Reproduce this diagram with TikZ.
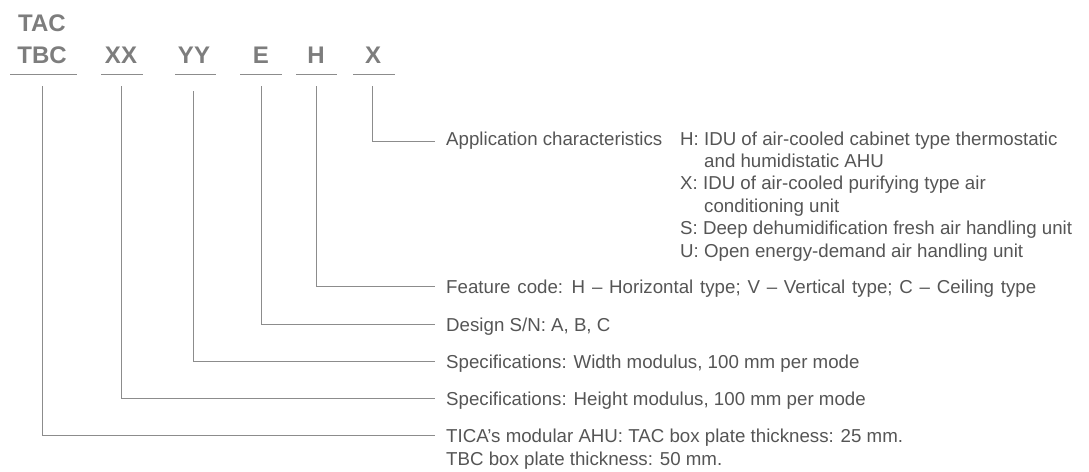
\documentclass[tikz,border=0pt]{standalone}
\usepackage{fontspec}
\setmainfont{Liberation Sans}
\definecolor{txtgray}{HTML}{555555}
\definecolor{ttlgray}{HTML}{7D7D7D}
\definecolor{lngray}{HTML}{8C8C8C}
\tikzset{
  codelbl/.style={inner sep=0pt, anchor=base, text=ttlgray, font=\fontsize{24}{31.7}\selectfont\bfseries},
  desc/.style={inner sep=0pt, anchor=base west, text=txtgray, font=\fontsize{18.7}{22.4}\selectfont},
  uline/.style={draw=lngray, line width=0.9pt},
  conn/.style={draw=lngray, line width=0.9pt},
}
\begin{document}
\begin{tikzpicture}[x=1pt,y=-1pt]
\useasboundingbox (0,0) rectangle (1089,471);
% code letters
\node[codelbl] (tac) at (42,31.6) {TAC};
\node[codelbl] (tbc) at (42,63.3) {TBC};
\node[codelbl] (xx) at (121,63.3) {XX};
\node[codelbl] (yy) at (194,63.3) {YY};
\node[codelbl] (ee) at (261,63.3) {E};
\node[codelbl] (hh) at (316,63.3) {H};
\node[codelbl] (xc) at (373,63.3) {X};
% underlines
\draw[uline] (10,74.5) -- (77,74.5);
\draw[uline] (101,74.5) -- (143,74.5);
\draw[uline] (175,74.5) -- (216,74.5);
\draw[uline] (240,74.5) -- (282,74.5);
\draw[uline] (296,74.5) -- (337,74.5);
\draw[uline] (353,74.5) -- (395,74.5);
% connector tops
\coordinate (ttbc) at (42,86);
\coordinate (txx) at (121,86);
\coordinate (tyy) at (193,91);
\coordinate (tee) at (261,86);
\coordinate (thh) at (316,86);
\coordinate (txc) at (372,86);
% descriptions
\node[desc] (app) at (446,145) {Application characteristics};
\node[desc] (h1) at (680,145) {H: IDU of air-cooled cabinet type thermostatic};
\node[desc] (h2) at (704,167.4) {and humidistatic AHU};
\node[desc] (x1) at (680,189.8) {X: IDU of air-cooled purifying type air};
\node[desc] (x2) at (704,212.2) {conditioning unit};
\node[desc] (s1) at (680,234.6) {S: Deep dehumidification fresh air handling unit};
\node[desc] (u1) at (680,257) {U: Open energy-demand air handling unit};
\node[desc] (feat) at (446,293) {\spaceskip=6.8pt Feature code: H – Horizontal type; V – Vertical type; C – Ceiling type};
\node[desc] (dsn) at (446,331) {Design S/N: A, B, C};
\node[desc] (wid) at (446,368) {Specifications: Width modulus, 100 mm per mode};
\node[desc] (hei) at (446,405) {Specifications: Height modulus, 100 mm per mode};
\node[desc] (tica) at (446,442) {TICA’s modular AHU: TAC box plate thickness: 25 mm.};
\node[desc] (tica2) at (446,465) {TBC box plate thickness: 50 mm.};
% connector ends
\coordinate (eapp) at (435,141);
\coordinate (efeat) at (435,286);
\coordinate (edsn) at (435,324);
\coordinate (ewid) at (435,361);
\coordinate (ehei) at (435,398);
\coordinate (etica) at (435,435);
% connectors
\draw[conn] (txc) |- (eapp);
\draw[conn] (thh) |- (efeat);
\draw[conn] (tee) |- (edsn);
\draw[conn] (tyy) |- (ewid);
\draw[conn] (txx) |- (ehei);
\draw[conn] (ttbc) |- (etica);
\end{tikzpicture}
\end{document}
